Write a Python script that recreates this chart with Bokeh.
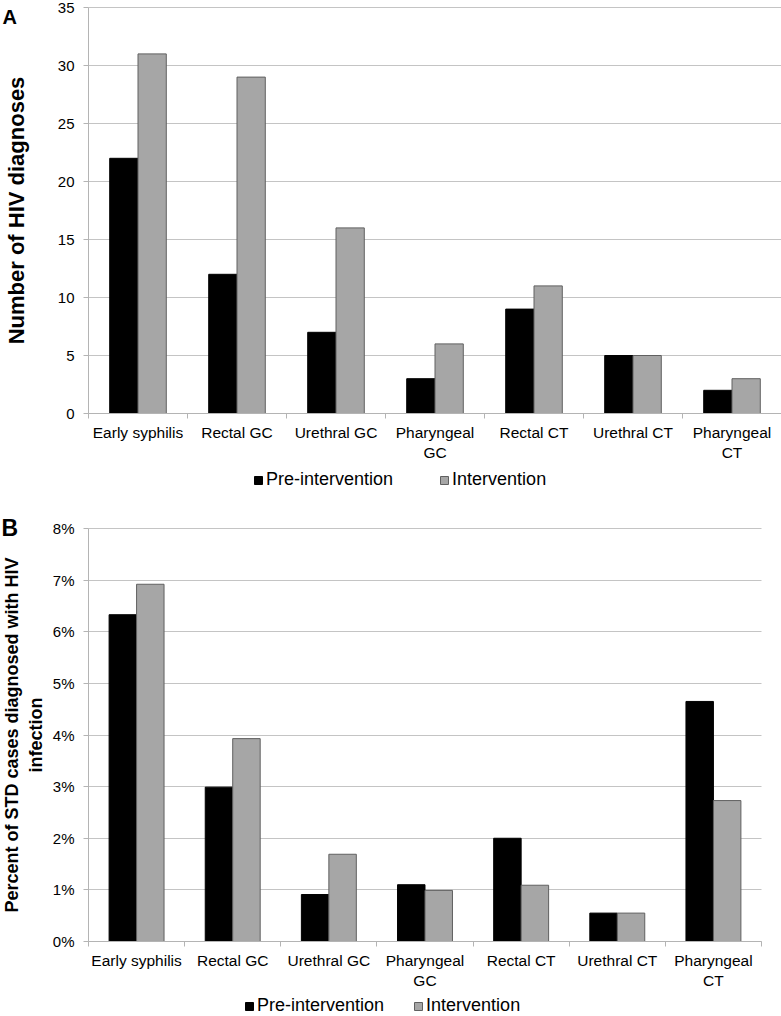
from bokeh.plotting import figure
from bokeh.layouts import column
from bokeh.models import Range1d, FixedTicker, Label, PrintfTickFormatter, ColumnDataSource
from bokeh.embed import file_html
from bokeh.resources import INLINE
import numpy as np

# ---- data ----
categories = ["Early syphilis", "Rectal GC", "Urethral GC", "Pharyngeal GC",
              "Rectal CT", "Urethral CT", "Pharyngeal CT"]
tick_labels = ["Early syphilis", "Rectal GC", "Urethral GC", "Pharyngeal\nGC",
               "Rectal CT", "Urethral CT", "Pharyngeal\nCT"]
series = ["Pre-intervention", "Intervention"]
hiv_pre = [22, 12, 7, 3, 9, 5, 2]
hiv_int = [31, 29, 16, 6, 11, 5, 3]
pct_pre = [6.33, 2.99, 0.91, 1.10, 2.00, 0.55, 4.65]
pct_int = [6.92, 3.93, 1.69, 0.99, 1.09, 0.55, 2.73]
a_ticks = [0, 5, 10, 15, 20, 25, 30, 35]
b_ticks = [0, 1, 2, 3, 4, 5, 6, 7, 8]

FONT = "Liberation Sans"
BLACK = "#000000"
GREY = "#a6a6a6"
GREY_EDGE = "#606060"
AXIS = "#b4b4b4"
GRID = "#c4c4c4"


def make_panel(pre, post, ticks, ymax, height, width, xr, yr,
               ylabel, ylabel_size, ylabel_standoff, fmt,
               panel_letter, letter_pos, letter_size, legend_loc, legend_spacing):
    n = len(categories)
    idx = np.arange(n)
    bw = 0.2857
    src = ColumnDataSource(dict(
        cat=categories,
        x_pre=idx + 0.5 - bw / 2,
        x_post=idx + 0.5 + bw / 2,
        pre=pre, post=post))
    p = figure(width=width, height=height, output_backend="svg",
               toolbar_location=None, x_range=Range1d(*xr),
               y_range=Range1d(*yr), min_border=0, min_border_left=0,
               min_border_right=0, min_border_top=0, min_border_bottom=0)
    p.outline_line_color = None
    p.background_fill_color = "white"
    p.border_fill_color = "white"

    # grid (limited to the plotting area)
    p.xgrid.grid_line_color = None
    p.ygrid.grid_line_color = GRID
    p.ygrid.grid_line_width = 1
    try:
        p.ygrid.cross_bounds = (0, n)
    except Exception:
        p.ygrid.grid_line_color = None
        p.segment(x0=[0] * len(ticks), x1=[n] * len(ticks), y0=ticks, y1=ticks,
                  line_color=GRID, line_width=1, level="underlay")

    p.vbar(x="x_pre", top="pre", width=bw, source=src, fill_color=BLACK,
           line_color=BLACK, line_width=1, legend_label=series[0])
    p.vbar(x="x_post", top="post", width=bw, source=src, fill_color=GREY,
           line_color=GREY_EDGE, line_width=1, legend_label=series[1])

    # x axis: labels at centres, tick marks at category boundaries
    centers = [i + 0.5 for i in range(n)]
    xa = p.xaxis[0]
    xa.fixed_location = 0
    xa.bounds = (0, n)
    xa.ticker = FixedTicker(ticks=centers, minor_ticks=list(range(n + 1)))
    xa.major_label_overrides = {c: t for c, t in zip(centers, tick_labels)}
    xa.major_tick_line_color = None
    xa.minor_tick_line_color = AXIS
    xa.minor_tick_out = 5
    xa.minor_tick_in = 0
    xa.axis_line_color = AXIS
    xa.major_label_text_font = FONT
    xa.major_label_text_font_size = "15.5px"
    xa.major_label_text_color = BLACK
    xa.major_label_standoff = 4

    # y axis
    ya = p.yaxis[0]
    ya.fixed_location = 0
    ya.bounds = (0, ymax)
    ya.ticker = FixedTicker(ticks=ticks)
    ya.minor_tick_line_color = None
    ya.major_tick_line_color = AXIS
    ya.major_tick_out = 5
    ya.major_tick_in = 0
    ya.axis_line_color = AXIS
    ya.major_label_text_font = FONT
    ya.major_label_text_font_size = "15px"
    ya.major_label_text_color = BLACK
    ya.major_label_standoff = 9
    ya.formatter = fmt
    ya.axis_label = ylabel
    ya.axis_label_text_font = FONT
    ya.axis_label_text_font_style = "bold"
    ya.axis_label_text_font_size = ylabel_size
    ya.axis_label_text_color = BLACK
    ya.axis_label_standoff = ylabel_standoff

    # legend
    lg = p.legend[0]
    lg.orientation = "horizontal"
    lg.location = legend_loc
    lg.padding = 0
    lg.margin = 0
    lg.spacing = legend_spacing
    lg.border_line_alpha = 0
    lg.background_fill_alpha = 0
    lg.glyph_width = 10
    lg.glyph_height = 10
    lg.label_standoff = 3
    lg.label_text_font = FONT
    lg.label_text_font_size = "18px"
    lg.label_text_color = BLACK
    lg.label_height = 20

    # panel letter
    p.add_layout(Label(x=letter_pos[0], y=letter_pos[1], x_units="data",
                       y_units="data", text=panel_letter, text_font=FONT,
                       text_font_style="bold", text_font_size=letter_size,
                       text_color=BLACK, text_baseline="alphabetic",
                       text_align="left"))
    return p


# panel A (page 0..510): 0 at y 413, 35 at y 7; x 0 at 88, 99 px per category
pA = make_panel(hiv_pre, hiv_int, a_ticks, 35, 510, 781,
                (-88 / 99, 7), (-97 / 11.6, 35 + 7 / 11.6),
                "Number of HIV diagnoses", "22px", 26,
                PrintfTickFormatter(format="%d"),
                "A", (-86 / 99, 397 / 11.6), "20px", (253, 20), 46)
# panel B (page 510..1016): 0% at y 941, 8% at y 528; x 0 at 88, 96.14 px per category
pB = make_panel(pct_pre, pct_int, b_ticks, 8, 506, 781,
                (-88 / 96.143, 7 + 20 / 96.143), (-75 / 51.625, 8 + 18 / 51.625),
                "Percent of STD cases diagnosed with HIV\ninfection", "18px", 4,
                PrintfTickFormatter(format="%d%%"),
                "B", (-87 / 96.143, 414 / 51.625), "23px", (244, 0), 29)

layout = column(pA, pB)
open("out.html", "w").write(file_html(layout, INLINE))
